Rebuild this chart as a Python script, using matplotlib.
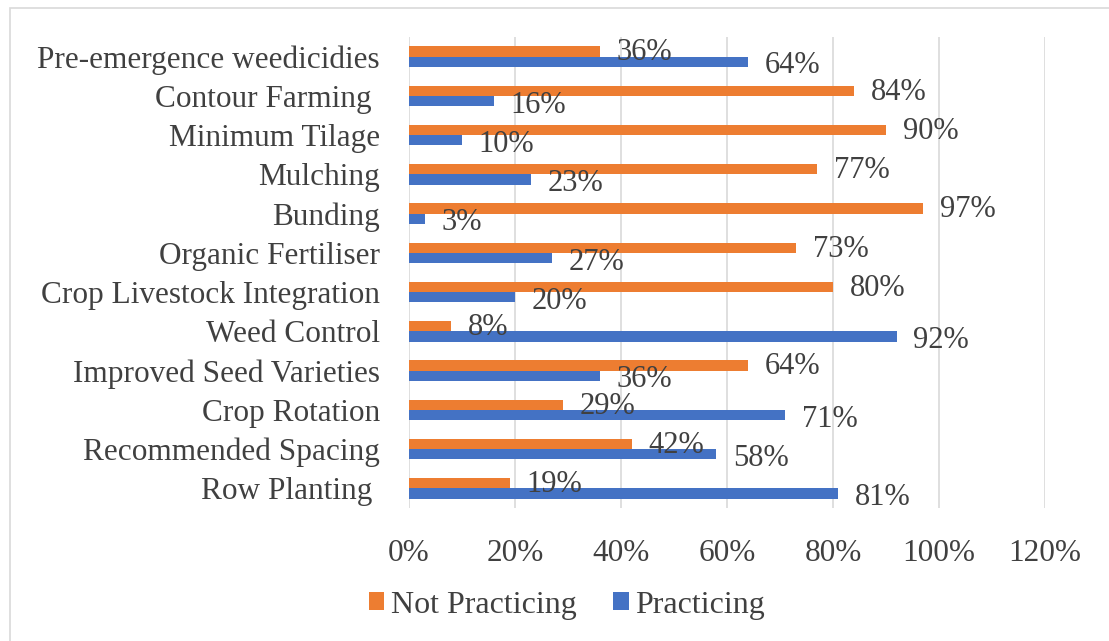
import matplotlib.pyplot as plt
from matplotlib.patches import Rectangle
import numpy as np

plt.rcParams['font.family'] = ['Liberation Serif', 'DejaVu Serif']

practices = ["Pre-emergence weedicidies", "Contour Farming ", "Minimum Tilage",
             "Mulching", "Bunding", "Organic Fertiliser",
             "Crop Livestock Integration", "Weed Control",
             "Improved Seed Varieties", "Crop Rotation",
             "Recommended Spacing", "Row Planting "]
not_practicing = [36, 84, 90, 77, 97, 73, 80, 8, 64, 29, 42, 19]
practicing = [64, 16, 10, 23, 3, 27, 20, 92, 36, 71, 58, 81]

orange = '#ed7d31'
blue = '#4472c4'
text_col = '#404040'

fig = plt.figure(figsize=(11.09, 6.41), dpi=100)
fig.patches.append(Rectangle((10 / 1109, -0.01), 1.0, 1 - 8 / 641 + 0.01,
                             transform=fig.transFigure, fill=False,
                             edgecolor='#d9d9d9', linewidth=1.2))
ax = fig.add_axes([409 / 1109, 1 - 508 / 641, 636 / 1109, 471 / 641])

y = np.arange(len(practices))
h = 0.263
b1 = ax.barh(y - h / 2, not_practicing, height=h, color=orange, label='Not Practicing')
b2 = ax.barh(y + h / 2, practicing, height=h, color=blue, label='Practicing')

# value labels just past the end of each bar
for bars, vals, dy in ((b1, not_practicing, -1), (b2, practicing, -3)):
    for bar, v in zip(bars, vals):
        ax.annotate(f"{v}%", (v, bar.get_y() + bar.get_height() / 2),
                    xytext=(12, dy), textcoords='offset points',
                    ha='left', va='center', fontsize=22, color=text_col)

ax.set_xlim(0, 120)
ax.set_ylim(len(practices) - 0.5, -0.5)
ax.set_xticks(range(0, 121, 20))
ax.set_xticklabels([f"{t}%" for t in range(0, 121, 20)])
ax.set_yticks(y)
ax.set_yticklabels(practices)
ax.tick_params(axis='both', length=0, labelsize=22.5, labelcolor=text_col)
ax.tick_params(axis='x', pad=22)
ax.tick_params(axis='y', pad=21)
ax.grid(axis='x', color='#d9d9d9', linewidth=1.2)
ax.set_axisbelow(True)
for s in ax.spines.values():
    s.set_visible(False)

fig.legend(handles=[b1, b2], loc='center', bbox_to_anchor=(567 / 1109, 1 - 605 / 641),
           ncol=2, frameon=False, fontsize=23, labelcolor=text_col,
           handlelength=0.48, handleheight=0.48, handletextpad=0.2, columnspacing=1.15)

fig.savefig('out.png', dpi=100)
